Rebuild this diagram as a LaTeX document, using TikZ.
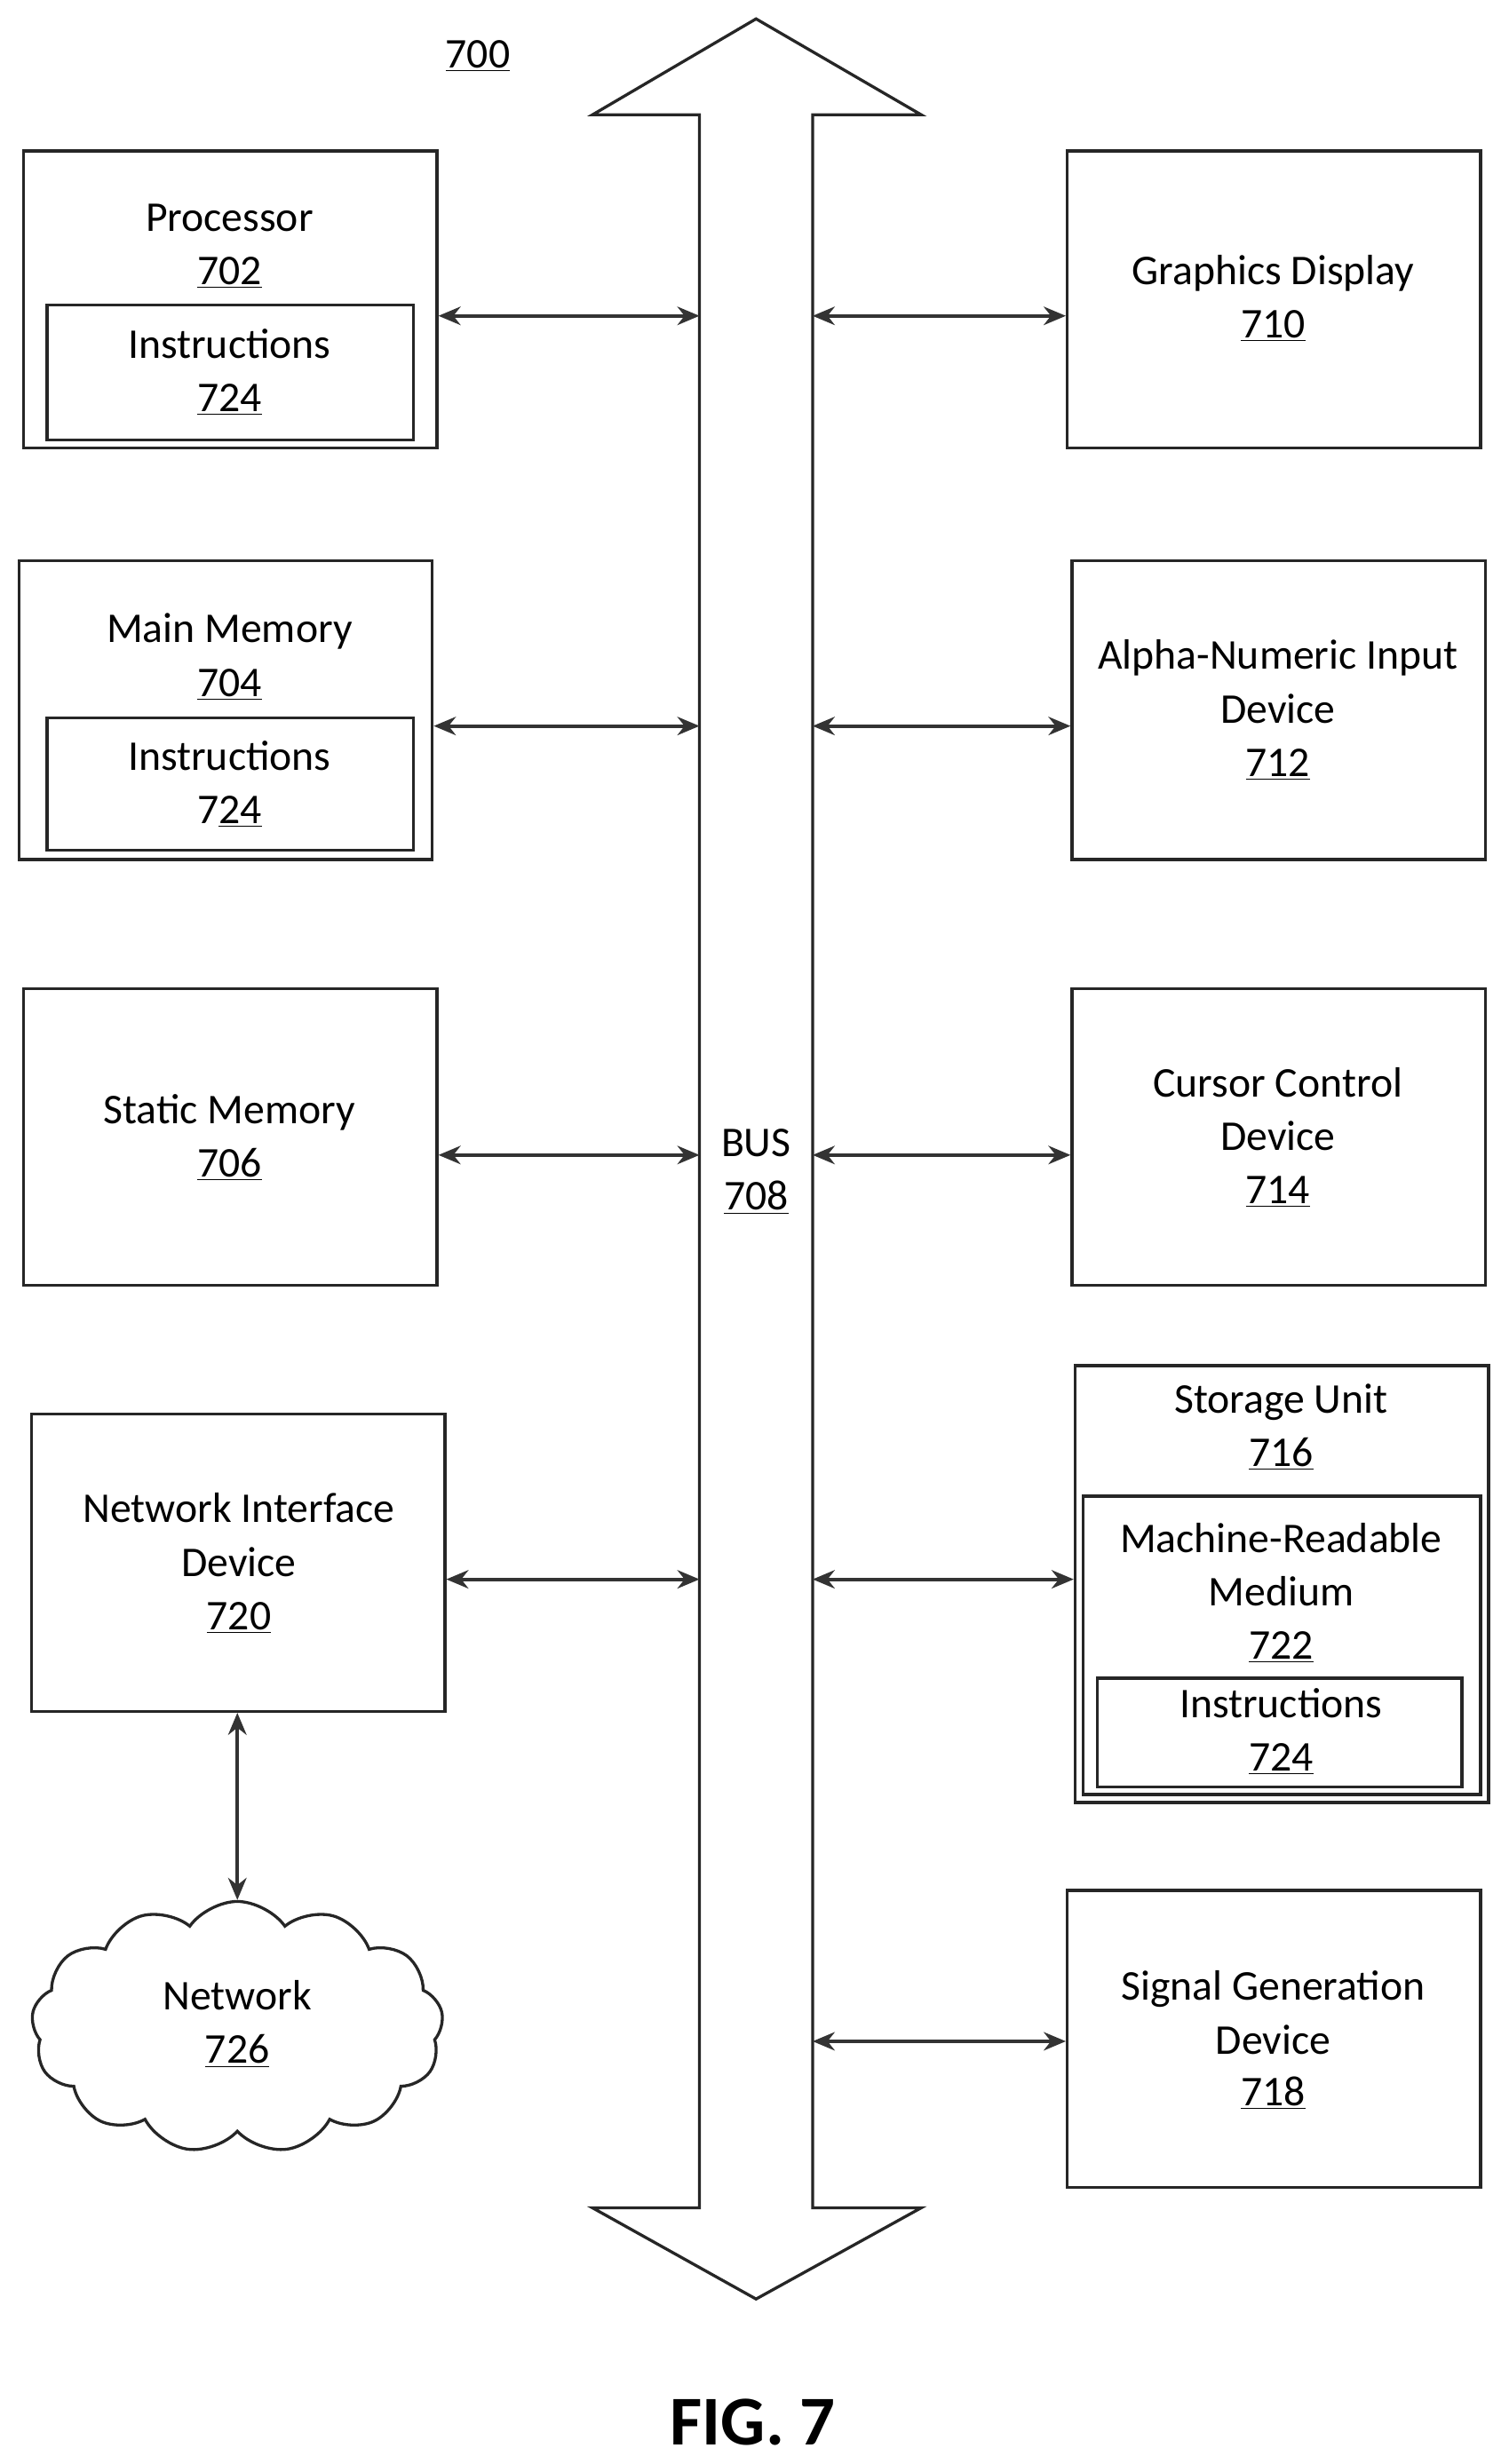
\documentclass[tikz,border=0pt]{standalone}
\usepackage{fontspec}
\setmainfont{Carlito}
\usetikzlibrary{shapes.symbols,arrows.meta}
\begin{document}
\begin{tikzpicture}[x=0.03cm,y=-0.03cm,
  box/.style={draw=black!85,line width=1.6pt,inner sep=0pt},
  lbl/.style={font=\fontsize{23}{28}\selectfont,inner sep=0pt,anchor=base},
  conn/.style={draw=black!80,line width=1.8pt,{Stealth[length=12pt,width=10pt]}-{Stealth[length=12pt,width=10pt]}}]
\useasboundingbox (0,0) rectangle (960,1568);
\newcommand{\bx}[5]{\node[box,minimum width={(#4-#2)*0.03cm},minimum height={(#5-#3)*0.03cm}] (#1) at ({(#2+#4)/2},{(#3+#5)/2}) {};}
\newcommand{\tx}[4]{\node[lbl] (#1) at (#2,#3+8) {#4};}
% bus
\draw[line width=1.6pt,draw=black!85] (445,73) -- (377,73) -- (481,12) -- (586,73) -- (517,73) -- (517,1405) -- (586,1405) -- (481,1463) -- (377,1405) -- (445,1405) -- cycle;
\coordinate (bl1) at (445,201); \coordinate (bl2) at (445,462); \coordinate (bl3) at (445,735); \coordinate (bl4) at (445,1005);
\coordinate (br1) at (517,201); \coordinate (br2) at (517,462); \coordinate (br3) at (517,735); \coordinate (br4) at (517,1005); \coordinate (br5) at (517,1299);
\tx{bus}{481}{728}{BUS} \tx{bus2}{481}{762}{\underline{708}}
\tx{t700}{304}{35}{\underline{700}}
% left
\bx{proc}{15}{96}{278}{285} \tx{a}{146}{139}{Processor} \tx{b}{146}{173}{\underline{702}}
\bx{pi}{30}{194}{263}{280} \tx{c}{146}{220}{Instructions} \tx{d}{146}{254}{\underline{724}}
\bx{mm}{12}{357}{275}{547} \tx{e}{146}{401}{Main Memory} \tx{f}{146}{435}{\underline{704}}
\bx{mi}{30}{457}{263}{541} \tx{g}{146}{482}{Instructions} \tx{h}{146}{516}{7\underline{24}}
\bx{sm}{15}{629}{278}{818} \tx{i}{146}{707}{Static Memory} \tx{j}{146}{741}{\underline{706}}
\bx{ni}{20}{900}{283}{1089} \tx{k}{152}{961}{Network Interface} \tx{l}{152}{995}{Device} \tx{m}{152}{1029}{\underline{720}}
\node[cloud,draw=black!85,line width=1.6pt,cloud puffs=13,cloud puff arc=110,aspect=1.6,minimum width=262*0.03cm,minimum height=160*0.03cm] (net) at (151,1290) {};
\tx{n}{151}{1271}{Network} \tx{o}{151}{1305}{\underline{726}}
% right
\bx{gd}{679}{96}{942}{285} \tx{p}{810}{173}{Graphics Display} \tx{q}{810}{207}{\underline{710}}
\bx{an}{682}{357}{945}{547} \tx{r}{813}{418}{Alpha-Numeric Input} \tx{s}{813}{452}{Device} \tx{t}{813}{486}{\underline{712}}
\bx{cc}{682}{629}{945}{818} \tx{u}{813}{690}{Cursor Control} \tx{v}{813}{724}{Device} \tx{w}{813}{758}{\underline{714}}
\bx{su}{684}{869}{947}{1147} \tx{x}{815}{891}{Storage Unit} \tx{y}{815}{925}{\underline{716}}
\bx{mr}{689}{952}{942}{1142} \tx{z}{815}{980}{Machine-Readable} \tx{aa}{815}{1014}{Medium} \tx{ab}{815}{1048}{\underline{722}}
\bx{si}{698}{1068}{930}{1137} \tx{ac}{815}{1085}{Instructions} \tx{ad}{815}{1119}{\underline{724}}
\bx{sg}{679}{1203}{942}{1392} \tx{ae}{810}{1265}{Signal Generation} \tx{af}{810}{1299}{Device} \tx{ag}{810}{1332}{\underline{718}}
% connectors
\draw[conn] (proc.east|-bl1) -- (bl1);
\draw[conn] (mm.east|-bl2) -- (bl2);
\draw[conn] (sm.east|-bl3) -- (bl3);
\draw[conn] (ni.east|-bl4) -- (bl4);
\draw[conn] (br1) -- (gd.west|-br1);
\draw[conn] (br2) -- (an.west|-br2);
\draw[conn] (br3) -- (cc.west|-br3);
\draw[conn] (br4) -- (su.west|-br4);
\draw[conn] (br5) -- (sg.west|-br5);
\draw[conn] (net.north|-ni.south) -- (net.north);
\node[font=\fontsize{38}{44}\selectfont\bfseries,anchor=base] (fig) at (479,1556) {FIG. 7};
\end{tikzpicture}
\end{document}
